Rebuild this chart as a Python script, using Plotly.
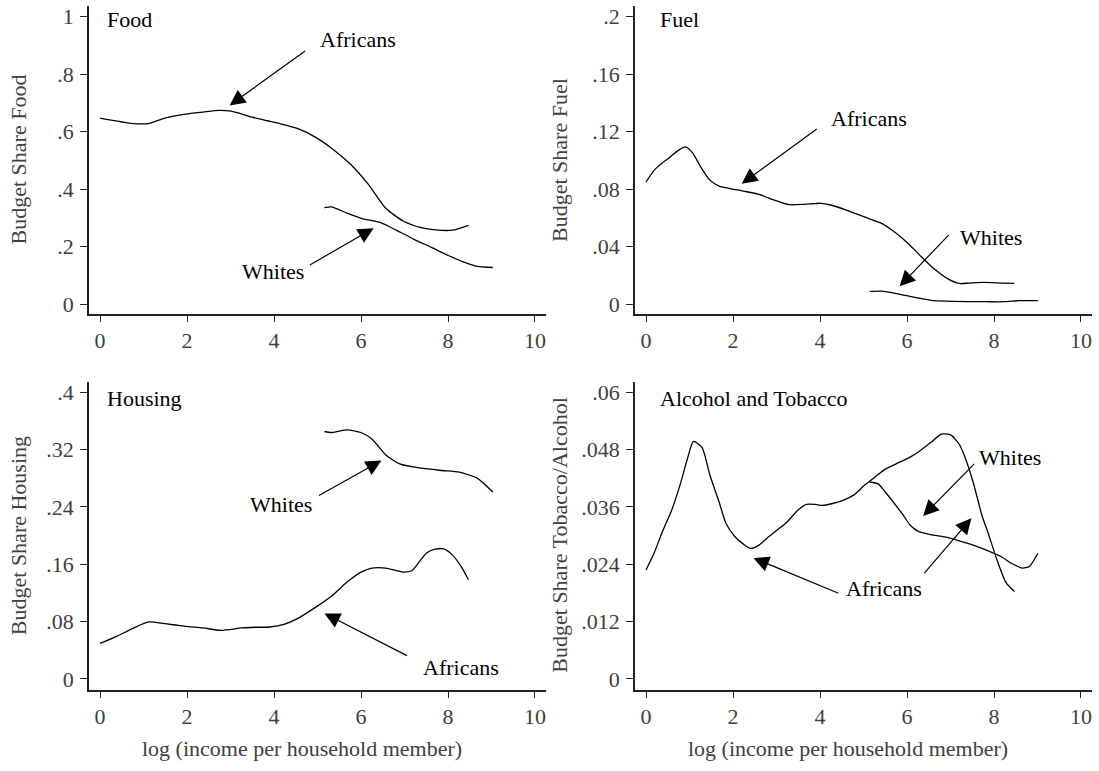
import plotly.graph_objects as go

# ---------------- data ----------------
food_afr_x = [0, 0.76, 1.12, 1.49, 1.97, 2.37, 2.74, 3.02, 3.50, 3.83, 4.15, 4.55, 4.96, 5.36, 5.76, 6.17, 6.57, 6.97, 7.38, 7.78, 8.10, 8.47]
food_afr_y = [0.647, 0.628, 0.628, 0.647, 0.661, 0.668, 0.674, 0.671, 0.650, 0.638, 0.627, 0.610, 0.580, 0.538, 0.486, 0.416, 0.333, 0.289, 0.266, 0.257, 0.257, 0.274]
food_wht_x = [5.16, 5.32, 5.68, 6.00, 6.45, 6.81, 7.22, 7.62, 8.02, 8.35, 8.67, 9.03]
food_wht_y = [0.335, 0.338, 0.316, 0.298, 0.283, 0.257, 0.225, 0.197, 0.168, 0.147, 0.131, 0.127]

fuel_afr_x = [0, 0.185, 0.35, 0.55, 0.75, 0.91, 1.07, 1.27, 1.47, 1.68, 1.96, 2.24, 2.60, 2.92, 3.29, 3.65, 4.01, 4.25, 4.62, 5.02, 5.38, 5.66, 5.99, 6.31, 6.63, 6.95, 7.20, 7.44, 7.76, 8.16, 8.47]
fuel_afr_y = [0.0849, 0.0930, 0.0976, 0.1022, 0.1071, 0.1094, 0.1052, 0.0948, 0.0862, 0.0821, 0.0802, 0.0786, 0.0763, 0.0726, 0.0691, 0.0694, 0.0701, 0.0689, 0.0652, 0.0606, 0.0566, 0.0513, 0.0432, 0.0335, 0.0243, 0.0173, 0.0143, 0.0146, 0.0150, 0.0146, 0.0143]
fuel_wht_x = [5.14, 5.42, 5.70, 5.99, 6.31, 6.63, 7.03, 7.84, 8.24, 8.57, 9.01]
fuel_wht_y = [0.0088, 0.0090, 0.0076, 0.0058, 0.0039, 0.0023, 0.0018, 0.0016, 0.0016, 0.0023, 0.0023]

hous_afr_x = [0, 0.355, 0.76, 1.12, 1.49, 1.97, 2.37, 2.78, 3.26, 3.58, 3.91, 4.23, 4.55, 4.96, 5.32, 5.68, 6.00, 6.25, 6.57, 6.97, 7.17, 7.50, 7.70, 7.90, 8.10, 8.30, 8.47]
hous_afr_y = [0.0494, 0.0586, 0.0706, 0.0794, 0.0770, 0.0734, 0.0711, 0.0678, 0.0711, 0.0720, 0.0724, 0.0761, 0.0844, 0.1001, 0.1153, 0.1352, 0.1490, 0.1546, 0.1546, 0.1490, 0.1509, 0.1753, 0.1809, 0.1813, 0.1730, 0.1569, 0.1384]
hous_wht_x = [5.16, 5.32, 5.68, 6.00, 6.25, 6.57, 6.89, 7.38, 7.86, 8.26, 8.67, 9.03]
hous_wht_y = [0.3451, 0.3437, 0.3474, 0.3437, 0.3345, 0.3124, 0.2999, 0.2939, 0.2907, 0.2884, 0.2800, 0.2607]

alc_afr_x = [0, 0.185, 0.39, 0.59, 0.79, 0.95, 1.09, 1.29, 1.47, 1.68, 1.84, 2.04, 2.24, 2.40, 2.60, 2.80, 3.01, 3.25, 3.49, 3.69, 3.89, 4.05, 4.29, 4.54, 4.78, 5.02, 5.26, 5.50, 5.75, 6.07, 6.31, 6.55, 6.79, 6.95, 7.03, 7.20, 7.32, 7.52, 7.72, 7.88, 8.08, 8.28, 8.47]
alc_afr_y = [0.0228, 0.0263, 0.0311, 0.0353, 0.0408, 0.0460, 0.0497, 0.0484, 0.0426, 0.0370, 0.0325, 0.0298, 0.0282, 0.0273, 0.0280, 0.0296, 0.0311, 0.0329, 0.0353, 0.0365, 0.0365, 0.0363, 0.0367, 0.0374, 0.0385, 0.0405, 0.0422, 0.0439, 0.0450, 0.0464, 0.0478, 0.0495, 0.0512, 0.0512, 0.0509, 0.0491, 0.0467, 0.0412, 0.0343, 0.0301, 0.0246, 0.0201, 0.0183]
alc_wht_x = [5.14, 5.34, 5.50, 5.71, 5.91, 6.07, 6.27, 6.55, 6.87, 7.20, 7.52, 7.84, 8.16, 8.40, 8.65, 8.81, 9.01]
alc_wht_y = [0.0412, 0.0408, 0.0391, 0.0367, 0.0343, 0.0322, 0.0308, 0.0302, 0.0297, 0.0289, 0.0280, 0.0269, 0.0256, 0.0242, 0.0232, 0.0235, 0.0263]

panel_titles = ["Food", "Fuel", "Housing", "Alcohol and Tobacco"]
y_titles = ["Budget Share Food", "Budget Share Fuel", "Budget Share Housing", "Budget Share Tobacco/Alcohol"]
x_title = "log (income per household member)"

food_ticks = [0, 0.2, 0.4, 0.6, 0.8, 1]
food_labels = ["0", ".2", ".4", ".6", ".8", "1"]
fuel_ticks = [0, 0.04, 0.08, 0.12, 0.16, 0.2]
fuel_labels = ["0", ".04", ".08", ".12", ".16", ".2"]
hous_ticks = [0, 0.08, 0.16, 0.24, 0.32, 0.4]
hous_labels = ["0", ".08", ".16", ".24", ".32", ".4"]
alc_ticks = [0, 0.012, 0.024, 0.036, 0.048, 0.06]
alc_labels = ["0", ".012", ".024", ".036", ".048", ".06"]
x_ticks = [0, 2, 4, 6, 8, 10]

# curve labels: (panel, text, text_x, text_y, anchor, [(tail_x, tail_y, head_x, head_y), ...])
labels = [
    (1, "Africans", 5.02, 0.919, "left", [(4.75, 0.884, 2.98, 0.691)]),
    (1, "Whites", 3.97, 0.113, "center", [(4.79, 0.133, 6.29, 0.264)]),
    (2, "Africans", 4.21, 0.129, "left", [(3.96, 0.1225, 2.20, 0.0837)]),
    (2, "Whites", 7.18, 0.0462, "left", [(6.99, 0.0490, 5.83, 0.0123)]),
    (3, "Whites", 4.16, 0.2431, "center", [(5.00, 0.2547, 6.47, 0.3045)]),
    (3, "Africans", 8.31, 0.0152, "center", [(7.09, 0.0314, 5.16, 0.0913)]),
    (4, "Whites", 8.36, 0.0464, "center", [(7.58, 0.0453, 6.37, 0.0341)]),
    (4, "Africans", 5.46, 0.0189, "center", [(4.46, 0.0178, 2.47, 0.0253), (6.37, 0.0218, 7.48, 0.0336)]),
]

# ---------------- figure ----------------
W, H = 1099, 771
FONT = "Liberation Serif"
GRAY = "#404040"

xdom_l = [89 / W, 546 / W]
xdom_r = [635 / W, 1092 / W]
ydom_t = [1 - 314 / H, 1 - 4 / H]
ydom_b = [1 - 692.3 / H, 1 - 382 / H]
xr = [-0.253, 10.253]
top_pad = (-0.0346, 1.0370)
bot_pad = (-0.0381, 1.0371)

fig = go.Figure()
series = [
    (food_afr_x, food_afr_y, food_wht_x, food_wht_y),
    (fuel_afr_x, fuel_afr_y, fuel_wht_x, fuel_wht_y),
    (hous_afr_x, hous_afr_y, hous_wht_x, hous_wht_y),
    (alc_afr_x, alc_afr_y, alc_wht_x, alc_wht_y),
]
line = dict(color="black", width=1.3, shape="spline", smoothing=0.6)
for i, (ax_, ay_, wx_, wy_) in enumerate(series):
    suf = "" if i == 0 else str(i + 1)
    fig.add_trace(go.Scatter(x=ax_, y=ay_, mode="lines", line=line, xaxis="x" + suf, yaxis="y" + suf, showlegend=False, hoverinfo="skip"))
    fig.add_trace(go.Scatter(x=wx_, y=wy_, mode="lines", line=line, xaxis="x" + suf, yaxis="y" + suf, showlegend=False, hoverinfo="skip"))

ymax = [1.0, 0.2, 0.4, 0.06]
yticks = [(food_ticks, food_labels), (fuel_ticks, fuel_labels), (hous_ticks, hous_labels), (alc_ticks, alc_labels)]
xdoms = [xdom_l, xdom_r, xdom_l, xdom_r]
ydoms = [ydom_t, ydom_t, ydom_b, ydom_b]
pads = [top_pad, top_pad, bot_pad, bot_pad]

axis_common = dict(showgrid=False, zeroline=False, showline=True, linecolor="#222", linewidth=1.5,
                   ticks="outside", tickcolor="#222", tickwidth=1.2,
                   tickfont=dict(family=FONT, size=22, color=GRAY))
layout = {}
for i in range(4):
    suf = "" if i == 0 else str(i + 1)
    layout["xaxis" + suf] = dict(axis_common, domain=xdoms[i], range=xr, anchor="y" + suf,
                                 tickvals=x_ticks, ticklen=6)
    m = ymax[i]
    layout["yaxis" + suf] = dict(axis_common, domain=ydoms[i], range=[pads[i][0] * m, pads[i][1] * m],
                                 anchor="x" + suf, tickvals=yticks[i][0], ticktext=yticks[i][1],
                                 ticklen=7, ticklabelstandoff=2)

annotations = []
# panel titles (data coords)
title_pos = [(0.115, 0.989), (0.276, 0.1977), (0.106, 0.391), (0.287, 0.0587)]
for i in range(4):
    suf = "" if i == 0 else str(i + 1)
    annotations.append(dict(text=panel_titles[i], x=title_pos[i][0], y=title_pos[i][1], xref="x" + suf, yref="y" + suf,
                            xanchor="left", yanchor="middle", showarrow=False,
                            font=dict(family=FONT, size=22, color="black")))
# y-axis titles
for i in range(4):
    xc = 18.5 if i in (0, 2) else 560
    yd = ydoms[i]
    annotations.append(dict(text=y_titles[i], x=xc / W, y=(yd[0] + yd[1]) / 2, xref="paper", yref="paper",
                            textangle=-90, xanchor="center", yanchor="middle", showarrow=False,
                            font=dict(family=FONT, size=22, color=GRAY)))
# x-axis titles (bottom row)
for xc in (302, 848):
    annotations.append(dict(text=x_title, x=xc / W, y=1 - 751 / H, xref="paper", yref="paper",
                            xanchor="center", yanchor="middle", showarrow=False,
                            font=dict(family=FONT, size=22, color=GRAY)))
# curve labels + arrows
for p, txt, tx, ty, anc, arrows in labels:
    suf = "" if p == 1 else str(p)
    annotations.append(dict(text=txt, x=tx, y=ty, xref="x" + suf, yref="y" + suf, xanchor=anc, yanchor="middle",
                            showarrow=False, font=dict(family=FONT, size=22, color="black")))
    for (t_x, t_y, h_x, h_y) in arrows:
        annotations.append(dict(text="", x=h_x, y=h_y, ax=t_x, ay=t_y, xref="x" + suf, yref="y" + suf,
                                axref="x" + suf, ayref="y" + suf, showarrow=True, arrowhead=2,
                                arrowsize=2.6, arrowwidth=1.2, arrowcolor="black", standoff=0, startstandoff=0))

fig.update_layout(**layout)
fig.update_layout(annotations=annotations, width=W, height=H, margin=dict(l=0, r=0, t=0, b=0),
                  paper_bgcolor="white", plot_bgcolor="white", showlegend=False)
fig.write_html("out.html")
